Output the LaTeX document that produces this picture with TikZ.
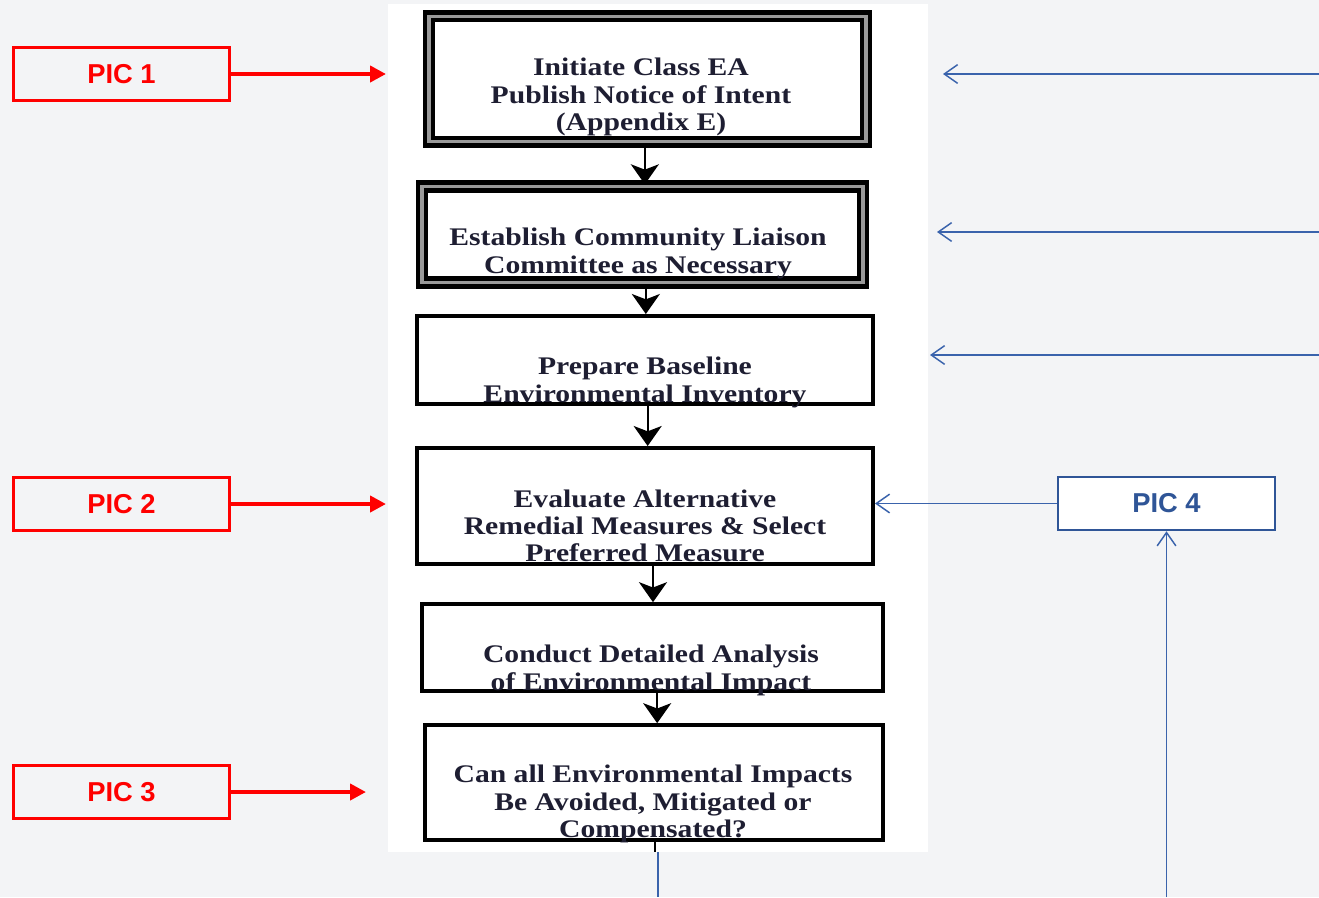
\documentclass[tikz,border=0pt]{standalone}
\usepackage{fontspec}
\setmainfont{Liberation Serif}
\newfontfamily\boxfont[FakeStretch=1.17]{Liberation Serif}
\newfontfamily\picfont{Liberation Sans}
\usepackage{xcolor}
\usetikzlibrary{arrows.meta, positioning}
\definecolor{C_RED} {HTML}{FF0000}
\definecolor{C_BLUE}{HTML}{3A63AC}
\definecolor{C_PIC} {HTML}{2F5597}
\definecolor{C_TXT} {HTML}{1E1E32}
\definecolor{C_BG}  {HTML}{F3F4F6}
\tikzset{
  %% -- flow chart box, single border --
  FC/box/.style={draw=black, line width=3pt, inner sep=0pt},
  %% -- flow chart box, double border --
  FC/dbl/.style={draw=black, line width=3.3pt, double=black!40,
    double distance=2.6pt, inner sep=0pt},
  %% -- flow chart text --
  FC/txt/.style={font=\boxfont\fontsize{19}{20.5}\selectfont\bfseries,
    text=C_TXT, align=center, inner sep=0pt},
  %% -- flow chart arrow --
  FC/arr/.style={-{Stealth[length=15pt, width=21pt, inset=4pt]},
    line width=1.7pt, black},
  %% -- red PIC label box --
  PIC/red/.style={draw=C_RED, line width=2.4pt,
    minimum width=162pt, minimum height=40pt, inner sep=0pt,
    font=\picfont\bfseries\fontsize{20.5}{24}\selectfont, text=C_RED},
  %% -- blue PIC label box --
  PIC/blue/.style={draw=C_PIC, line width=1.6pt, fill=white,
    minimum width=163pt, minimum height=40pt, inner sep=0pt,
    font=\picfont\bfseries\fontsize{20.5}{24}\selectfont, text=C_PIC},
  %% -- red arrow --
  PIC/rarr/.style={-{Triangle[length=12pt, width=12pt]},
    line width=3pt, C_RED},
  %% -- blue open arrow --
  PIC/barr/.style={-{Straight Barb[length=10pt, width=14pt]},
    line width=1.1pt, C_BLUE},
}
\begin{document}
\begin{tikzpicture}[x=0.75pt, y=-0.75pt]

%% ━━━━━━━━━━━━━━━━━━━━━━━━━━━━━━━━━━━━━━━━━━━━━━━━━━━━━━━━━━━━━━━
%%  BACKGROUND and white page
%% ━━━━━━━━━━━━━━━━━━━━━━━━━━━━━━━━━━━━━━━━━━━━━━━━━━━━━━━━━━━━━━━
\useasboundingbox (0,0) rectangle (1319,897);
\fill[C_BG] (0,0) rectangle (1319,897);
\fill[white] (388,4) rectangle (928,852);

%% ━━━━━━━━━━━━━━━━━━━━━━━━━━━━━━━━━━━━━━━━━━━━━━━━━━━━━━━━━━━━━━━
%%  FLOW CHART
%% ━━━━━━━━━━━━━━━━━━━━━━━━━━━━━━━━━━━━━━━━━━━━━━━━━━━━━━━━━━━━━━━
%% Boxes
\node[FC/dbl, minimum width=328pt, minimum height=94pt] (b1) at (647.5,79) {};
\node[FC/dbl, minimum width=331pt, minimum height=72pt] (b2) at (642.5,234.5) {};
\node[FC/box, minimum width=342pt, minimum height=66pt] (b3) at (645,360) {};
\node[FC/box, minimum width=342pt, minimum height=87pt] (b4) at (645,506) {};
\node[FC/box, minimum width=346pt, minimum height=65pt] (b5) at (652.5,647.5) {};
\node[FC/box, minimum width=343pt, minimum height=86pt] (b6) at (654,782.5) {};

%% Box texts
\node[FC/txt] (t1) at (641,97)
  {Initiate Class EA\\Publish Notice of Intent\\(Appendix E)};
\node[FC/txt] (t2) at (638,253.5)
  {Establish Community Liaison\\Committee as Necessary};
\node[FC/txt] (t3) at (645,382.5)
  {Prepare Baseline\\Environmental Inventory};
\node[FC/txt] (t4) at (645,526)
  {Evaluate Alternative\\Remedial Measures \& Select\\Preferred Measure};
\node[FC/txt] (t5) at (651,670.5)
  {Conduct Detailed Analysis\\of Environmental Impact};
\node[FC/txt] (t6) at (653,804)
  {Can all Environmental Impacts\\Be Avoided, Mitigated or\\Compensated?};

%% Arrows between boxes
\draw[FC/arr] ([xshift=-2pt]b1.south) -- ([xshift=-2pt]b1.south |- b2.north);
\draw[FC/arr] ([xshift=2.5pt]b2.south) -- ([xshift=2.5pt]b2.south |- b3.north);
\draw[FC/arr] ([xshift=2pt]b3.south) -- ([xshift=2pt]b3.south |- b4.north);
\draw[FC/arr] ([xshift=6pt]b4.south) -- ([xshift=6pt]b4.south |- b5.north);
\draw[FC/arr] ([xshift=3.5pt]b5.south) -- ([xshift=3.5pt]b5.south |- b6.north);

%% Stub below last box, then blue line to the edge
\coordinate (stub) at (655,852);
\draw[line width=1.5pt, black] (b6.south -| stub) -- (stub);
\coordinate (bl1) at (658,852);
\coordinate (bl2) at (658,897);
\draw[line width=1.1pt, C_BLUE] (bl1) -- (bl2);

%% ━━━━━━━━━━━━━━━━━━━━━━━━━━━━━━━━━━━━━━━━━━━━━━━━━━━━━━━━━━━━━━━
%%  RED LABELS (left)
%% ━━━━━━━━━━━━━━━━━━━━━━━━━━━━━━━━━━━━━━━━━━━━━━━━━━━━━━━━━━━━━━━
\node[PIC/red] (p1) at (121.5,74) {PIC 1};
\node[PIC/red] (p2) at (121.5,504) {PIC 2};
\node[PIC/red] (p3) at (121.5,792) {PIC 3};

\coordinate (p1tip) at (386,74);
\coordinate (p2tip) at (386,504);
\coordinate (p3tip) at (366,792);
\draw[PIC/rarr] (p1.east) -- (p1tip);
\draw[PIC/rarr] (p2.east) -- (p2tip);
\draw[PIC/rarr] (p3.east) -- (p3tip);

%% ━━━━━━━━━━━━━━━━━━━━━━━━━━━━━━━━━━━━━━━━━━━━━━━━━━━━━━━━━━━━━━━
%%  BLUE LABEL and arrows (right)
%% ━━━━━━━━━━━━━━━━━━━━━━━━━━━━━━━━━━━━━━━━━━━━━━━━━━━━━━━━━━━━━━━
\node[PIC/blue] (p4) at (1166.5,503.5) {PIC 4};
\draw[PIC/barr] (p4.west) -- (p4.west -| b4.east);
\coordinate (p4in) at (1166.5,897);
\draw[PIC/barr] (p4in) -- (p4.south);

%% Arrows coming in from the right edge
\coordinate (r1) at (1319,74);   \coordinate (r1tip) at (943,74);
\coordinate (r2) at (1319,232);  \coordinate (r2tip) at (937,232);
\coordinate (r3) at (1319,355);  \coordinate (r3tip) at (930,355);
\draw[PIC/barr] (r1) -- (r1tip);
\draw[PIC/barr] (r2) -- (r2tip);
\draw[PIC/barr] (r3) -- (r3tip);

\end{tikzpicture}
\end{document}
